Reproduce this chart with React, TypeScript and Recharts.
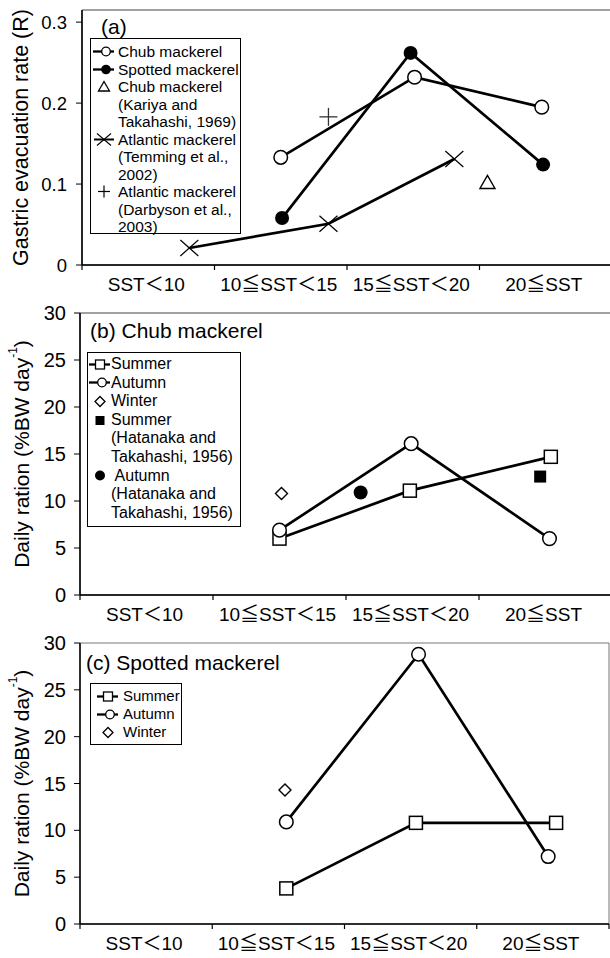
import React from 'react';
import { ScatterChart, Scatter, XAxis, YAxis, Legend, ReferenceArea } from 'recharts';

const categories = ['SST＜10', '10≦SST＜15', '15≦SST＜20', '20≦SST'];
const catTicks = [0, 0.5, 1, 1.5, 2, 2.5, 3, 3.5, 4];

// Panel (a) gastric evacuation rate (R); x = position along the 4 SST classes (0..4)
const aChubX = [1.5, 2.51, 3.47];
const aChubR = [0.133, 0.232, 0.195];
const aSpottedX = [1.51, 2.48, 3.48];
const aSpottedR = [0.058, 0.262, 0.124];
const aKariyaX = [3.06];
const aKariyaR = [0.102];
const aTemmingX = [0.81, 1.86, 2.81];
const aTemmingR = [0.021, 0.051, 0.131];
const aDarbysonX = [1.86];
const aDarbysonR = [0.183];
const aTicks = [0, 0.1, 0.2, 0.3];

// Panel (b) chub mackerel daily ration
const bSummerX = [1.5, 2.48, 3.54];
const bSummerY = [6.0, 11.1, 14.7];
const bAutumnX = [1.5, 2.49, 3.53];
const bAutumnY = [6.9, 16.1, 6.0];
const bWinterX = [1.515];
const bWinterY = [10.8];
const bHSummerX = [3.46];
const bHSummerY = [12.6];
const bHAutumnX = [2.11];
const bHAutumnY = [10.9];

// Panel (c) spotted mackerel daily ration
const cSummerX = [1.56, 2.54, 3.6];
const cSummerY = [3.8, 10.8, 10.8];
const cAutumnX = [1.56, 2.56, 3.54];
const cAutumnY = [10.9, 28.8, 7.2];
const cWinterX = [1.55];
const cWinterY = [14.3];
const drTicks = [0, 5, 10, 15, 20, 25, 30];

const pts = (xs: number[], ys: number[]) => xs.map((x, i) => ({ x, y: ys[i] }));

const FONT = '"Liberation Sans", Arial, "Noto Sans CJK JP", sans-serif';
const LINE = { stroke: '#000', strokeWidth: 2.7 };

const OpenCircle = (p: any) => <circle cx={p.cx} cy={p.cy} r={6.8} fill="#fff" stroke="#000" strokeWidth={1.5} />;
const FilledCircle = (p: any) => <circle cx={p.cx} cy={p.cy} r={7} fill="#000" />;
const OpenSquare = (p: any) => <rect x={p.cx - 6.5} y={p.cy - 6.5} width={13} height={13} fill="#fff" stroke="#000" strokeWidth={1.5} />;
const FilledSquare = (p: any) => <rect x={p.cx - 6} y={p.cy - 6} width={12} height={12} fill="#000" />;
const Diamond = (p: any) => (
  <polygon points={`${p.cx},${p.cy - 6} ${p.cx + 6},${p.cy} ${p.cx},${p.cy + 6} ${p.cx - 6},${p.cy}`} fill="#fff" stroke="#000" strokeWidth={1.4} />
);
const Triangle = (p: any) => (
  <polygon points={`${p.cx},${p.cy - 7} ${p.cx + 7.5},${p.cy + 6} ${p.cx - 7.5},${p.cy + 6}`} fill="#fff" stroke="#000" strokeWidth={1.4} />
);
const XMark = (p: any) => (
  <g stroke="#000" strokeWidth={1.2}>
    <line x1={p.cx - 9} y1={p.cy - 8} x2={p.cx + 9} y2={p.cy + 8} />
    <line x1={p.cx - 9} y1={p.cy + 8} x2={p.cx + 9} y2={p.cy - 8} />
  </g>
);
const PlusMark = (p: any) => (
  <g stroke="#333" strokeWidth={1.3}>
    <line x1={p.cx - 9} y1={p.cy} x2={p.cx + 9} y2={p.cy} />
    <line x1={p.cx} y1={p.cy - 9} x2={p.cx} y2={p.cy + 9} />
  </g>
);

const CatTick = (props: any) => {
  const { x, y, payload } = props;
  const v = payload.value;
  if (Number.isInteger(v)) {
    return <line x1={x} x2={x} y1={y - 5} y2={y} stroke="#000" strokeWidth={1.2} />;
  }
  return (
    <text x={x - 2} y={y + 21} textAnchor="middle" fontSize={19} fill="#000" fontFamily={FONT}>
      {categories[Math.floor(v)]}
    </text>
  );
};

const YLabel = (props: any) => {
  const vb = props.viewBox || { x: 0, y: 0, width: 0, height: 0 };
  const cx = vb.x + 21;
  const cy = vb.y + vb.height / 2;
  return (
    <text x={cx} y={cy} transform={`rotate(-90 ${cx} ${cy})`} textAnchor="middle" dominantBaseline="central" fontSize={props.fs || 21} fill="#000" fontFamily={FONT}>
      {props.sup ? (
        <>
          {props.text}
          <tspan dy={-8} fontSize={12}>-1</tspan>
          <tspan dy={8}>)</tspan>
        </>
      ) : (
        props.text
      )}
    </text>
  );
};

// legend icons
const Icon = ({ kind }: { kind: string }) => {
  const c = 8.5;
  let body: any = null;
  if (kind === 'lineOpenCircle') body = (<><line x1={1} x2={22} y1={c} y2={c} stroke="#000" strokeWidth={2.3} /><circle cx={14} cy={c} r={4.3} fill="#fff" stroke="#000" strokeWidth={1.3} /></>);
  if (kind === 'lineFilledCircle') body = (<><line x1={1} x2={22} y1={c} y2={c} stroke="#000" strokeWidth={2.3} /><circle cx={14} cy={c} r={4.8} fill="#000" /></>);
  if (kind === 'triangle') body = <polygon points={`12,${c - 5} 17.5,${c + 4.5} 6.5,${c + 4.5}`} fill="#fff" stroke="#000" strokeWidth={1.3} />;
  if (kind === 'lineX') body = (<><line x1={2} x2={22} y1={c} y2={c} stroke="#000" strokeWidth={2} /><line x1={5} y1={c - 6} x2={19} y2={c + 6} stroke="#000" strokeWidth={1.1} /><line x1={5} y1={c + 6} x2={19} y2={c - 6} stroke="#000" strokeWidth={1.1} /></>);
  if (kind === 'plus') body = (<><line x1={6} x2={18} y1={c} y2={c} stroke="#000" strokeWidth={1.2} /><line x1={12} x2={12} y1={c - 6} y2={c + 6} stroke="#000" strokeWidth={1.2} /></>);
  if (kind === 'lineOpenSquare') body = (<><line x1={1} x2={22} y1={c} y2={c} stroke="#000" strokeWidth={2.3} /><rect x={7.5} y={c - 4.5} width={9} height={9} fill="#fff" stroke="#000" strokeWidth={1.3} /></>);
  if (kind === 'diamond') body = <polygon points={`12,${c - 5} 17,${c} 12,${c + 5} 7,${c}`} fill="#fff" stroke="#000" strokeWidth={1.3} />;
  if (kind === 'filledSquare') body = <rect x={7.5} y={c - 4.5} width={9} height={9} fill="#000" />;
  if (kind === 'filledCircle') body = <circle cx={12} cy={c} r={5} fill="#000" />;
  return (
    <svg width={24} height={17} style={{ display: 'block', flex: '0 0 auto' }}>
      {body}
    </svg>
  );
};

type LegItem = { icon: string; lines: string[] };

const legendA: LegItem[] = [
  { icon: 'lineOpenCircle', lines: ['Chub mackerel'] },
  { icon: 'lineFilledCircle', lines: ['Spotted mackerel'] },
  { icon: 'triangle', lines: ['Chub mackerel', '(Kariya and', 'Takahashi, 1969)'] },
  { icon: 'lineX', lines: ['Atlantic mackerel', '(Temming et al.,', '2002)'] },
  { icon: 'plus', lines: ['Atlantic mackerel', '(Darbyson et al.,', '2003)'] },
];
const legendB: LegItem[] = [
  { icon: 'lineOpenSquare', lines: ['Summer'] },
  { icon: 'lineOpenCircle', lines: ['Autumn'] },
  { icon: 'diamond', lines: ['Winter'] },
  { icon: 'filledSquare', lines: ['Summer', '(Hatanaka and', 'Takahashi, 1956)'] },
  { icon: 'filledCircle', lines: [' Autumn', '(Hatanaka and', 'Takahashi, 1956)'] },
];
const legendC: LegItem[] = [
  { icon: 'lineOpenSquare', lines: ['Summer'] },
  { icon: 'lineOpenCircle', lines: ['Autumn'] },
  { icon: 'diamond', lines: ['Winter'] },
];

const PanelLegend = ({ title, titleLeft, titleTop, items, box, fontSize, lineH, iconW }: any) => (
  <div style={{ position: 'relative', fontFamily: FONT, color: '#000' }}>
    <div style={{ position: 'absolute', left: titleLeft, top: titleTop, fontSize: 21, lineHeight: '24px', whiteSpace: 'nowrap' }}>{title}</div>
    <div
      style={{
        position: 'absolute',
        left: box.left,
        top: box.top,
        width: box.width,
        height: box.height,
        border: '1.5px solid #000',
        boxSizing: 'border-box',
        paddingTop: box.padTop,
        paddingLeft: box.padLeft,
        background: '#fff',
      }}
    >
      {items.map((it: LegItem, i: number) => (
        <div key={i} style={{ display: 'flex', alignItems: 'flex-start' }}>
          <div style={{ width: iconW, flex: '0 0 auto', height: lineH, display: 'flex', alignItems: 'center' }}>
            <Icon kind={it.icon} />
          </div>
          <div style={{ fontSize, lineHeight: `${lineH}px`, whiteSpace: 'pre' }}>
            {it.lines.map((l, j) => (
              <div key={j}>{l}</div>
            ))}
          </div>
        </div>
      ))}
    </div>
  </div>
);

const axisLine = { stroke: '#000', strokeWidth: 1.5 };

export default function App() {
  return (
    <div style={{ position: 'absolute', left: 0, top: 0, width: 610, height: 958, background: '#fff', fontFamily: FONT, overflow: 'hidden' }}>
      {/* Panel (a) */}
      <div style={{ position: 'absolute', left: 0, top: 0 }}>
        <ScatterChart width={612} height={300} margin={{ top: 10, right: 0, bottom: 5, left: 0 }}>
          <XAxis type="number" dataKey="x" domain={[0, 4]} ticks={catTicks} interval={0} tick={<CatTick />} tickLine={false} tickSize={5} tickMargin={0} axisLine={axisLine} height={30} allowDataOverflow />
          <YAxis type="number" dataKey="y" domain={[0, 0.315]} ticks={aTicks} interval={0} width={82} tickSize={6} tickMargin={9} tick={{ fill: '#000', fontSize: 18.5, fontFamily: FONT }} tickLine={{ stroke: '#000' }} axisLine={axisLine} label={<YLabel text="Gastric evacuation rate (R)" fs={21.5} />} allowDataOverflow />
          <ReferenceArea x1={0} x2={4} y1={0} y2={0.315} fill="none" stroke="#444" strokeWidth={1} />
          <Scatter data={pts(aTemmingX, aTemmingR)} line={LINE} shape={XMark} isAnimationActive={false} />
          <Scatter data={pts(aChubX, aChubR)} line={LINE} shape={OpenCircle} isAnimationActive={false} />
          <Scatter data={pts(aSpottedX, aSpottedR)} line={LINE} shape={FilledCircle} isAnimationActive={false} />
          <Scatter data={pts(aKariyaX, aKariyaR)} shape={Triangle} isAnimationActive={false} />
          <Scatter data={pts(aDarbysonX, aDarbysonR)} shape={PlusMark} isAnimationActive={false} />
          <Legend
            layout="vertical"
            align="center"
            verticalAlign="middle"
            wrapperStyle={{ position: 'absolute', left: 0, top: 0, width: 0, height: 0 }}
            content={() => (
              <PanelLegend title="(a)" titleLeft={101} titleTop={15} items={legendA} box={{ left: 90, top: 38, width: 151, height: 196, padTop: 4, padLeft: 1 }} fontSize={15.5} lineH={17.5} iconW={26} />
            )}
          />
        </ScatterChart>
      </div>

      {/* Panel (b) */}
      <div style={{ position: 'absolute', left: 0, top: 300 }}>
        <ScatterChart width={612} height={330} margin={{ top: 13, right: 0, bottom: 5, left: 0 }}>
          <XAxis type="number" dataKey="x" domain={[0, 4]} ticks={catTicks} interval={0} tick={<CatTick />} tickLine={false} tickSize={5} tickMargin={0} axisLine={axisLine} height={30} allowDataOverflow />
          <YAxis type="number" dataKey="y" domain={[0, 30]} ticks={drTicks} interval={0} width={80} tickSize={6} tickMargin={8} tick={{ fill: '#000', fontSize: 20, fontFamily: FONT }} tickLine={{ stroke: '#000' }} axisLine={axisLine} label={<YLabel text="Daily ration (%BW day" sup />} allowDataOverflow />
          <ReferenceArea x1={0} x2={4} y1={0} y2={30} fill="none" stroke="#444" strokeWidth={1} />
          <Scatter data={pts(bSummerX, bSummerY)} line={LINE} shape={OpenSquare} isAnimationActive={false} />
          <Scatter data={pts(bAutumnX, bAutumnY)} line={LINE} shape={OpenCircle} isAnimationActive={false} />
          <Scatter data={pts(bWinterX, bWinterY)} shape={Diamond} isAnimationActive={false} />
          <Scatter data={pts(bHSummerX, bHSummerY)} shape={FilledSquare} isAnimationActive={false} />
          <Scatter data={pts(bHAutumnX, bHAutumnY)} shape={FilledCircle} isAnimationActive={false} />
          <Legend
            layout="vertical"
            align="center"
            verticalAlign="middle"
            wrapperStyle={{ position: 'absolute', left: 0, top: 0, width: 0, height: 0 }}
            content={() => (
              <PanelLegend title="(b) Chub mackerel" titleLeft={90} titleTop={19} items={legendB} box={{ left: 87, top: 52, width: 154, height: 175, padTop: 2, padLeft: 0 }} fontSize={16} lineH={18.6} iconW={23} />
            )}
          />
        </ScatterChart>
      </div>

      {/* Panel (c) */}
      <div style={{ position: 'absolute', left: 0, top: 630 }}>
        <ScatterChart width={610} height={328} margin={{ top: 13, right: 1, bottom: 4, left: 0 }}>
          <XAxis type="number" dataKey="x" domain={[0, 4]} ticks={catTicks} interval={0} tick={<CatTick />} tickLine={false} tickSize={5} tickMargin={0} axisLine={axisLine} height={30} allowDataOverflow />
          <YAxis type="number" dataKey="y" domain={[0, 30]} ticks={drTicks} interval={0} width={80} tickSize={6} tickMargin={8} tick={{ fill: '#000', fontSize: 20, fontFamily: FONT }} tickLine={{ stroke: '#000' }} axisLine={axisLine} label={<YLabel text="Daily ration (%BW day" sup />} allowDataOverflow />
          <ReferenceArea x1={0} x2={4} y1={0} y2={30} fill="none" stroke="#777" strokeWidth={1} />
          <Scatter data={pts(cSummerX, cSummerY)} line={LINE} shape={OpenSquare} isAnimationActive={false} />
          <Scatter data={pts(cAutumnX, cAutumnY)} line={LINE} shape={OpenCircle} isAnimationActive={false} />
          <Scatter data={pts(cWinterX, cWinterY)} shape={Diamond} isAnimationActive={false} />
          <Legend
            layout="vertical"
            align="center"
            verticalAlign="middle"
            wrapperStyle={{ position: 'absolute', left: 0, top: 0, width: 0, height: 0 }}
            content={() => (
              <PanelLegend title="(c) Spotted mackerel" titleLeft={86} titleTop={21} items={legendC} box={{ left: 90, top: 53, width: 92, height: 62, padTop: 3, padLeft: 5 }} fontSize={15} lineH={18} iconW={27} />
            )}
          />
        </ScatterChart>
      </div>
    </div>
  );
}
